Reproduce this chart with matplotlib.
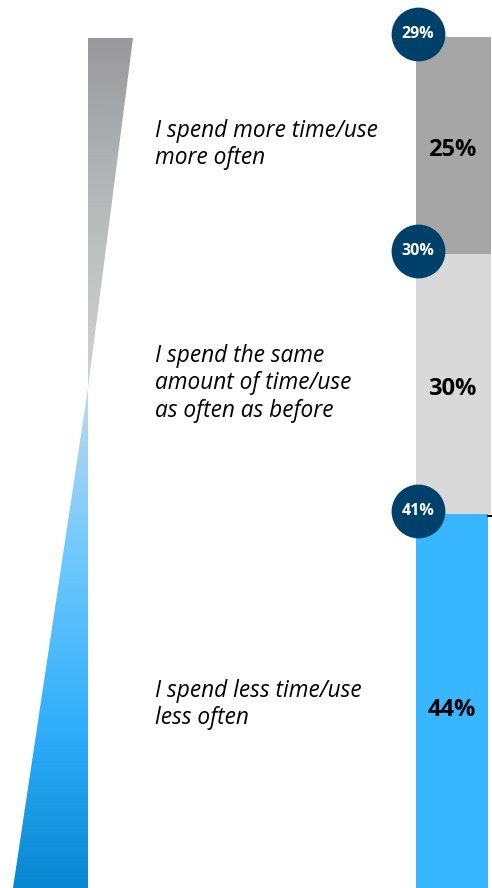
import numpy as np
import matplotlib
matplotlib.use("Agg")
import matplotlib.pyplot as plt
from matplotlib.patches import Polygon
from matplotlib.transforms import blended_transform_factory
from matplotlib.colors import LinearSegmentedColormap

# ---- data ----
categories = ["I spend more time/use\nmore often",
              "I spend the same\namount of time/use\nas often as before",
              "I spend less time/use\nless often"]
current_values = [25, 30, 44]
previous_values = [29, 30, 41]
segment_colors = ["#a6a6a6", "#d9d9d9", "#38b6ff"]
circle_color = "#00416b"

W, H = 492, 888
fig = plt.figure(figsize=(W / 100, H / 100), dpi=100)

# ---- background axes in pixel coordinates for the tapered gradient ----
bg = fig.add_axes([0, 0, 1, 1])
bg.set_xlim(0, W)
bg.set_ylim(H, 0)
bg.axis("off")

grad_cmap = LinearSegmentedColormap.from_list("g", [
    (0.00, (0.60, 0.60, 0.61)),
    (0.20, (0.72, 0.73, 0.73)),
    (0.36, (0.80, 0.80, 0.80)),
    (0.43, (0.72, 0.85, 0.93)),
    (0.60, (0.45, 0.79, 0.99)),
    (0.82, (0.18, 0.68, 0.98)),
    (1.00, (0.03, 0.53, 0.82)),
])
grad = np.linspace(0, 1, 512).reshape(-1, 1)
top_tri = Polygon([(88, 38), (133, 38), (88, 388)], closed=True,
                  facecolor="none", edgecolor="none")
bot_tri = Polygon([(88, 388), (88, 888), (13, 888)], closed=True,
                  facecolor="none", edgecolor="none")
for tri in (top_tri, bot_tri):
    bg.add_patch(tri)
    im = bg.imshow(grad, cmap=grad_cmap, aspect="auto",
                   extent=(10, 140, 888, 38), interpolation="bilinear")
    im.set_clip_path(tri)

# ---- stacked bar ----
px_per_pct = 8.68
bar_top_px = 37
ax = fig.add_axes([416 / W, 0, (491 - 416) / W, (H - bar_top_px) / H])
ax.set_xlim(-0.5, 0.5)
ax.set_ylim((H - bar_top_px) / px_per_pct, 0)
ax.axis("off")

bottoms = np.concatenate([[0], np.cumsum(current_values)[:-1]])
widths = [1.0, 1.0, 0.96]
for v, b, c, w in zip(current_values, bottoms, segment_colors, widths):
    ax.bar(-0.5, v, bottom=b, width=w, align="edge", color=c, linewidth=0)
    ax.text(-0.02, b + v / 2 + 0.5, f"{v}%", ha="center", va="center",
            fontsize=17, fontweight="bold", family="Open Sans", color="black")

# small tick mark at the right edge of the blue segment
ax.plot([0.46, 0.5], [bottoms[2] + 0.2, bottoms[2] + 0.2], color="black",
        linewidth=1.5, clip_on=False)

# circles with previous values
cx = -0.5 + 2 / 75
for p, b in zip(previous_values, bottoms):
    y = b - 0.35
    ax.scatter([cx], [y], s=1500, color=circle_color, zorder=5, clip_on=False,
               linewidths=0)
    ax.text(cx, y, f"{p}%", ha="center", va="center", color="white",
            fontsize=11.5, fontweight="bold", family="Open Sans", zorder=6,
            clip_on=False)

# category labels
tr = blended_transform_factory(fig.transFigure, ax.transData)
for cat, v, b in zip(categories, current_values, bottoms):
    fig.text(155 / W, b + v / 2 - 0.1, cat, transform=tr, ha="left", va="center",
             fontsize=16.3, style="italic", family="Open Sans", color="black",
             linespacing=1.2)

fig.savefig("out.png", dpi=100)
